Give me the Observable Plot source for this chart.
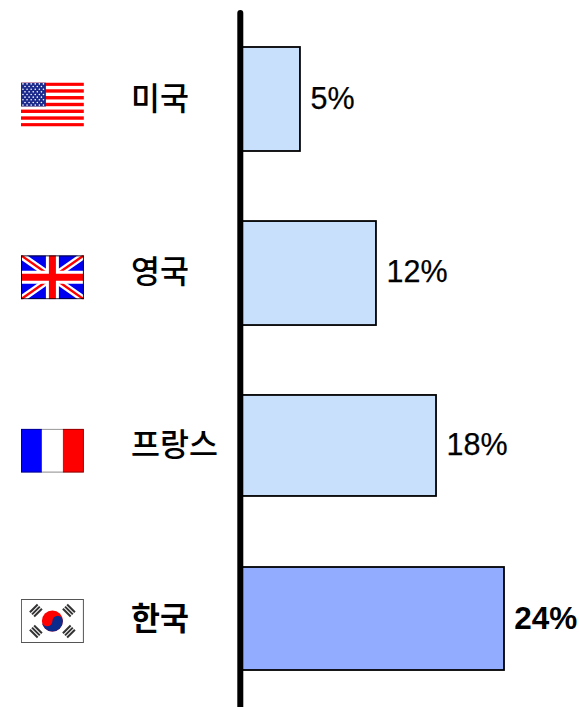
<!DOCTYPE html>
<html lang="ko">
<head>
<meta charset="utf-8">
<script src="https://cdn.jsdelivr.net/npm/d3@7"></script>
<script src="https://cdn.jsdelivr.net/npm/@observablehq/plot@0.6"></script>
<style>html,body{margin:0;padding:0;background:#fff}svg{display:block}</style>
</head>
<body>
<div id="chart"></div>
<script>
const countries = ["미국", "영국", "프랑스", "한국"];
const flagKeys = ["us", "uk", "fr", "kr"];
const valueLabels = ["5%", "12%", "18%", "24%"];
const barLengths = [5.45, 12.36, 17.82, 24];
const barColors = ["#c8e0fc", "#c8e0fc", "#c8e0fc", "#92adff"];
const highlighted = "한국";

const svgURI = (inner, w, h) => "data:image/svg+xml," + encodeURIComponent(
  `<svg xmlns="http://www.w3.org/2000/svg" viewBox="0 0 ${w} ${h}" preserveAspectRatio="none">${inner}</svg>`);

function usFlag() {
  let s = `<rect width="63" height="44" fill="#fff"/>`;
  for (let i = 0; i < 13; i += 2) s += `<rect y="${i * 44 / 13}" width="63" height="${44 / 13}" fill="#ff0000"/>`;
  s += `<rect width="25" height="24" fill="#1c2a8c"/>`;
  for (let r = 0; r < 9; r++) {
    const n = r % 2 ? 5 : 6;
    for (let c = 0; c < n; c++) {
      s += `<circle cx="${(r % 2 ? 4.1 : 2.05) + c * 4.1}" cy="${1.4 + r * 2.65}" r="0.8" fill="#fff"/>`;
    }
  }
  return svgURI(s, 63, 44);
}
function ukFlag() {
  const s = `<rect width="63" height="44" fill="#0000f0"/>
  <path d="M0 0L63 44M63 0L0 44" stroke="#fff" stroke-width="7"/>
  <path d="M0 0L31.5 22M63 44L31.5 22M63 0L31.5 22M0 44L31.5 22" stroke="#ff0000" stroke-width="2.4"/>
  <path d="M31.5 0V44M0 22H63" stroke="#fff" stroke-width="13"/>
  <path d="M31.5 0V44M0 22H63" stroke="#ff0000" stroke-width="7"/>
  <rect x=".5" y=".5" width="62" height="43" fill="none" stroke="#000" stroke-width="1"/>`;
  return svgURI(s, 63, 44);
}
function frFlag() {
  const s = `<rect width="21" height="44" fill="#0000ff"/><rect x="21" width="21" height="44" fill="#fff"/><rect x="42" width="21" height="44" fill="#ff0000"/>
  <rect x=".5" y=".5" width="62" height="43" fill="none" stroke="#000" stroke-opacity=".55" stroke-width="1"/>`;
  return svgURI(s, 63, 44);
}
function krFlag() {
  const tri = (x, y, a) => {
    let t = "";
    for (let i = 0; i < 3; i++) t += `<rect x="${-5.5}" y="${-4 + i * 3}" width="11" height="2" fill="#333"/>`;
    return `<g transform="translate(${x} ${y}) rotate(${a})">${t}</g>`;
  };
  const s = `<rect x=".5" y=".5" width="62" height="43" fill="#fff" stroke="#555" stroke-width="1"/>
  ${tri(15, 11.5, -45)}${tri(48, 11.5, 45)}${tri(15, 32.5, 45)}${tri(48, 32.5, -45)}
  <circle cx="31.5" cy="22" r="10.5" fill="#ff0000"/>
  <path d="M21 22A10.5 10.5 0 0 0 42 22A5.25 5.25 0 0 0 31.5 22A5.25 5.25 0 0 1 21 22Z" fill="#0a2a8c"/>`;
  return svgURI(s, 63, 44);
}
const flagImages = {us: usFlag(), uk: ukFlag(), fr: frFlag(), kr: krFlag()};

const rows = countries.map((country, i) => ({
  country, flag: flagKeys[i], label: valueLabels[i], length: barLengths[i], color: barColors[i]
}));
const plain = rows.filter(d => d.country !== highlighted);
const bold = rows.filter(d => d.country === highlighted);
const font = '"Liberation Sans","Noto Sans CJK KR",sans-serif';

const plot = Plot.plot({
  width: 580,
  height: 707,
  margin: 0,
  style: {background: "#fff", fontFamily: font},
  x: {domain: [0, 24], range: [240, 504], axis: null},
  y: {domain: countries, range: [12.33, 705.67], paddingInner: 0.4, paddingOuter: 0.2, round: false, axis: null},
  marks: [
    ...rows.map((d, i) => Plot.barX([d], {
      y: "country", x1: 0, x2: "length", fill: "color", stroke: "#000", strokeWidth: 1.8,
      insetTop: [0, 0.7, 1.3, 0][i], insetBottom: [0, -0.7, 1.7, 1][i]
    })),
    Plot.ruleX([0], {stroke: "#000", strokeWidth: 6, strokeLinecap: "round", insetTop: 13, dx: -0.2}),
    ...rows.map((d, i) => Plot.image([d], {
      x: () => -17.1, y: "country", src: r => flagImages[r.flag], width: 63, height: 44,
      preserveAspectRatio: "none", dy: [5, 4.5, 4.5, 1.5][i]
    })),
    Plot.text(plain, {x: () => -9.95, y: "country", text: "country", textAnchor: "start", fontSize: 31.5, fontWeight: 500, fill: "#000", fontFamily: font}),
    Plot.text(bold, {x: () => -9.95, y: "country", text: "country", textAnchor: "start", fontSize: 31.5, fontWeight: "bold", fill: "#000", fontFamily: font}),
    Plot.text(plain, {x: "length", y: "country", text: "label", textAnchor: "start", dx: 10, dy: -0.5, fontSize: 30.5, fill: "#000", stroke: "#000", strokeWidth: 0.25, fontFamily: font}),
    Plot.text(bold, {x: "length", y: "country", text: "label", textAnchor: "start", dx: 9.7, dy: -0.5, fontSize: 31.5, fontWeight: "bold", fill: "#000", fontFamily: font})
  ]
});
document.getElementById("chart").append(plot);
</script>
</body>
</html>
